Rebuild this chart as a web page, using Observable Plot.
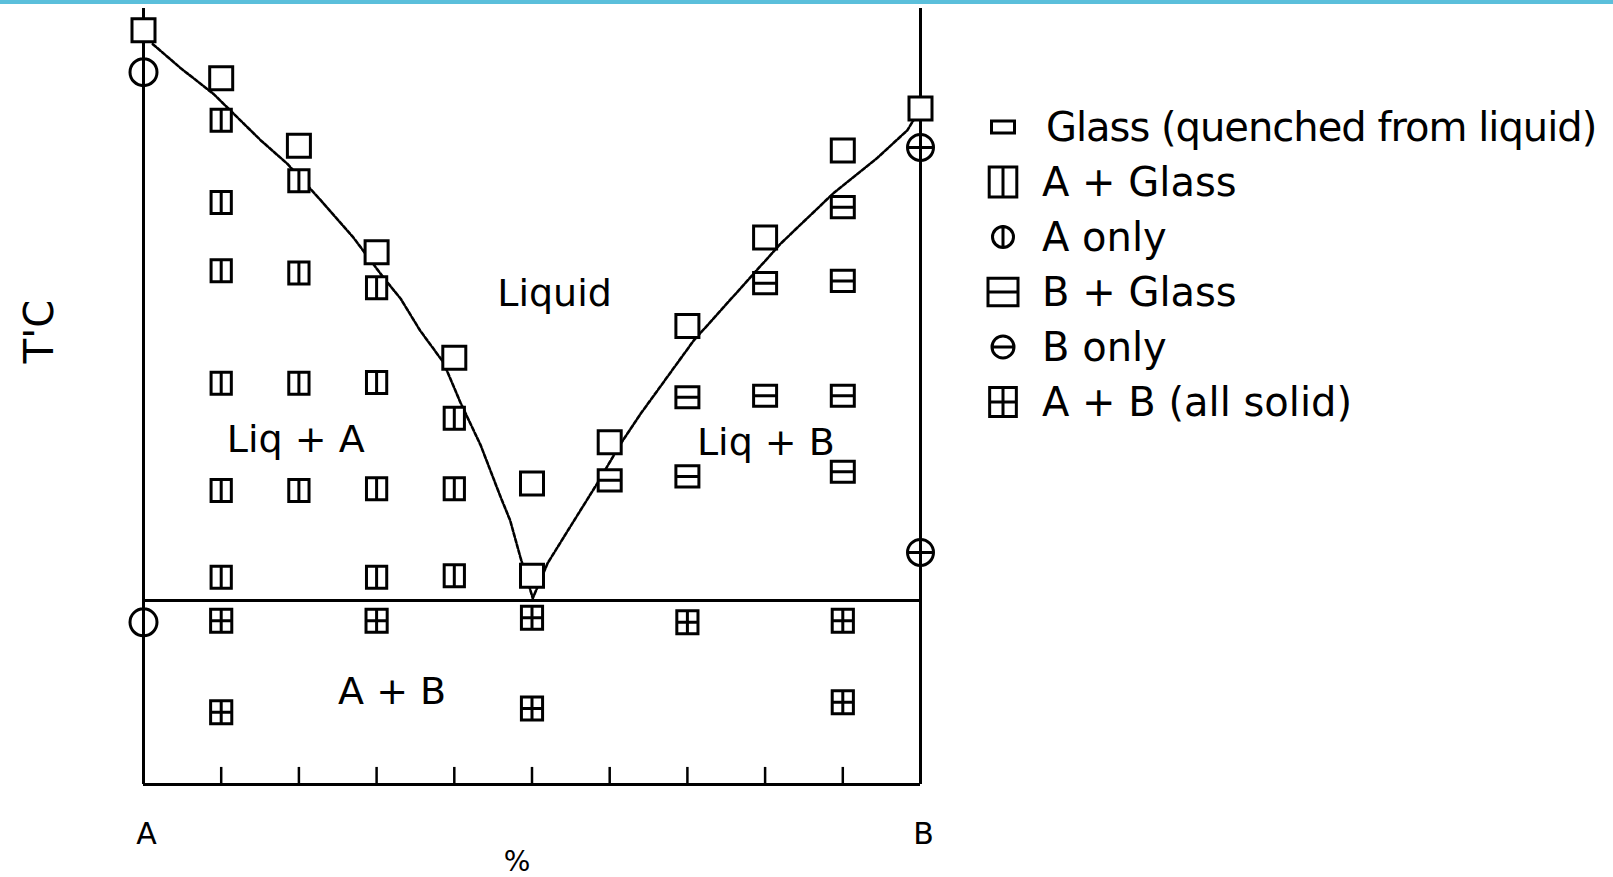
<!DOCTYPE html>
<html>
<head>
<meta charset="utf-8">
<script src="https://cdn.jsdelivr.net/npm/d3@7"></script>
<script src="https://cdn.jsdelivr.net/npm/@observablehq/plot@0.6"></script>
<style>
  html, body { margin: 0; padding: 0; background: #fff; }
  #wrap { position: relative; width: 1613px; height: 877px; overflow: hidden; font-family: "DejaVu Sans", sans-serif; color: #000; }
  #topbar { position: absolute; left: 0; top: 0; width: 100%; height: 4px; background: #5bbfdb; z-index: 2; }
  #chart { position: absolute; left: 0; top: 0; }
  #key { position: absolute; left: 985px; top: 99px; }
  .row { display: flex; align-items: center; height: 55px; }
  .row svg { flex: none; overflow: visible; }
  .row span { margin-left: 21px; font-size: 40px; line-height: 1; white-space: nowrap; }
  .row span.first { margin-left: 25px; letter-spacing: -1px; }
</style>
</head>
<body>
<div id="wrap">
  <div id="chart"></div>
  <div id="key"></div>
  <div id="topbar"></div>
</div>
<script>
// Composition axis: % of B (0 = pure A, 100 = pure B); temperature in relative units.
const compTicks = [10, 20, 30, 40, 50, 60, 70, 80, 90];
const endLabels = ["A", "B"];
const endPct = [0, 100];
const eutecticT = 23.7;

// Liquidus curve (A side down to the eutectic, then up to B)
const liquidusPct = [1.2, 4.8, 9.0, 15.1, 18.5, 22.8, 27.0, 30.9, 33.1, 35.6, 38.6, 40.8, 43.4, 45.9, 47.2, 48.5, 50.1,
                     52.0, 54.6, 58.4, 61.4, 64.0, 70.8, 77.7, 82.0, 88.8, 94.5, 98.3, 100];
const liquidusT   = [95.4, 92.3, 89.0, 83.0, 80.0, 75.3, 70.5, 65.3, 62.6, 58.5, 54.4, 49.2, 43.7, 37.2, 34.0, 29.3, 24.0,
                     28.5, 32.7, 38.8, 43.9, 47.8, 57.2, 64.9, 69.7, 76.2, 80.8, 84.3, 87.1];

// Quenched runs, one pair of arrays per observed phase assemblage
const glassPct = [0, 10, 20, 30, 40, 50, 50, 60, 70, 80, 90, 100];
const glassT   = [97.2, 91.0, 82.3, 68.6, 55.0, 38.8, 26.9, 44.1, 59.1, 70.5, 81.7, 87.1];

const aGlassPct = [10, 10, 10, 20, 20, 30, 10, 20, 30, 40, 10, 20, 30, 40, 10, 30, 40];
const aGlassT   = [85.6, 75.0, 66.2, 77.8, 65.9, 64.0, 51.7, 51.7, 51.8, 47.2, 37.9, 37.9, 38.1, 38.1, 26.7, 26.7, 26.9];

const aOnlyPct = [0, 0];
const aOnlyT   = [91.8, 20.9];

const bGlassPct = [90, 80, 90, 70, 80, 90, 60, 70, 90];
const bGlassT   = [74.4, 64.6, 64.9, 49.9, 50.1, 50.1, 39.2, 39.7, 40.3];

const bOnlyPct = [100, 100];
const bOnlyT   = [82.1, 29.9];

const abPct = [10, 30, 50, 70, 90, 10, 50, 90];
const abT   = [21.1, 21.1, 21.5, 20.9, 21.1, 9.3, 9.8, 10.6];

// Field labels
const fieldNames = ["Liquid", "Liq + A", "Liq + B", "A + B"];
const fieldPct   = [52.9, 19.6, 80.1, 32.0];
const fieldT     = [61.7, 42.8, 42.4, 10.4];

const yLabel = "T'C";
const xLabel = "%";

// Marker shapes: r is the half-width of the marker
const side = size => Math.sqrt(size / Math.PI);
function box(ctx, w, h) {
  ctx.moveTo(-w, -h); ctx.lineTo(w, -h); ctx.lineTo(w, h); ctx.lineTo(-w, h); ctx.closePath();
}
const symGlass = { draw(ctx, size) { const r = side(size); box(ctx, r, r); } };
const symGlassKey = { draw(ctx, size) { const r = side(size); box(ctx, r, r * 0.52); } };
const symAGlass = { draw(ctx, size) { const r = side(size); box(ctx, r * 0.92, r); ctx.moveTo(0, -r); ctx.lineTo(0, r); } };
const symBGlass = { draw(ctx, size) { const r = side(size); box(ctx, r, r * 0.92); ctx.moveTo(-r, 0); ctx.lineTo(r, 0); } };
const symAB = { draw(ctx, size) { const r = side(size); box(ctx, r * 0.92, r); ctx.moveTo(0, -r); ctx.lineTo(0, r); ctx.moveTo(-r * 0.92, 0); ctx.lineTo(r * 0.92, 0); } };
const symAOnly = { draw(ctx, size) { const r = side(size); ctx.moveTo(r, 0); ctx.arc(0, 0, r, 0, 2 * Math.PI); ctx.moveTo(0, -r * 1.15); ctx.lineTo(0, r * 1.15); } };
const symBOnly = { draw(ctx, size) { const r = side(size); ctx.moveTo(r, 0); ctx.arc(0, 0, r, 0, 2 * Math.PI); ctx.moveTo(-r * 1.1, 0); ctx.lineTo(r * 1.1, 0); } };

const phases = [
  { name: "Glass (quenched from liquid)", pct: glassPct, t: glassT, symbol: symGlass, key: symGlassKey, r: 11.5, keyR: 11.5, fill: "white" },
  { name: "A + Glass", pct: aGlassPct, t: aGlassT, symbol: symAGlass, key: symAGlass, r: 11, keyR: 15, fill: "white" },
  { name: "A only", pct: aOnlyPct, t: aOnlyT, symbol: symAOnly, key: symAOnly, r: 13.5, keyR: 10.5, fill: "none" },
  { name: "B + Glass", pct: bGlassPct, t: bGlassT, symbol: symBGlass, key: symBGlass, r: 11.5, keyR: 15, fill: "white" },
  { name: "B only", pct: bOnlyPct, t: bOnlyT, symbol: symBOnly, key: symBOnly, r: 13, keyR: 11, fill: "none" },
  { name: "A + B (all solid)", pct: abPct, t: abT, symbol: symAB, key: symAB, r: 11.5, keyR: 14.5, fill: "white" }
];

const liquidus = liquidusPct.map((p, i) => ({ pct: p, t: liquidusT[i] }));
const fields = fieldNames.map((name, i) => ({ name, pct: fieldPct[i], t: fieldT[i] }));
const ends = endLabels.map((name, i) => ({ name, pct: endPct[i] }));

const dotMarks = phases.map(ph =>
  Plot.dot(ph.pct.map((p, i) => ({ pct: p, t: ph.t[i] })), {
    x: "pct", y: "t", symbol: ph.symbol, r: ph.r,
    fill: ph.fill, stroke: "black", strokeWidth: 3
  })
);

const chart = Plot.plot({
  width: 960,
  height: 877,
  marginLeft: 143,
  marginRight: 40,
  marginTop: 8,
  marginBottom: 93,
  x: { domain: [0, 100], axis: null },
  y: { domain: [0, 100], axis: null },
  style: { fontFamily: "DejaVu Sans, sans-serif", fontSize: "38px", background: "white", color: "black" },
  marks: [
    Plot.line(liquidus, { x: "pct", y: "t", stroke: "black", strokeWidth: 2.6, strokeDasharray: "4 2" }),
    Plot.ruleY([0, eutecticT], { x1: 0, x2: 100, stroke: "black", strokeWidth: 3 }),
    Plot.ruleX(endPct, { y1: 0, y2: 100, stroke: "black", strokeWidth: 3 }),
    Plot.ruleX(compTicks, { y1: 0, y2: 2.2, stroke: "black", strokeWidth: 2.5 }),
    ...dotMarks,
    Plot.text(fields, { x: "pct", y: "t", text: "name", fontSize: 38, lineAnchor: "bottom", fill: "black" }),
    Plot.text(ends, { x: "pct", y: () => 0, text: "name", fontSize: 30, lineAnchor: "bottom", dy: 59, dx: 3, fill: "black" }),
    Plot.text([xLabel], { frameAnchor: "bottom", text: d => d, fontSize: 28, lineAnchor: "bottom", dy: 86, dx: -15, fill: "black" }),
    Plot.text([yLabel], { frameAnchor: "top-left", text: d => d, fontSize: 40, rotate: -90, textAnchor: "middle", lineAnchor: "bottom", dx: -91, dy: 323, fill: "black" })
  ]
});
document.getElementById("chart").appendChild(chart);

// Symbol key to the right of the diagram
const key = d3.select("#key");
phases.forEach((ph, i) => {
  const row = key.append("div").attr("class", "row");
  const svg = row.append("svg").attr("width", 36).attr("height", 36);
  svg.append("path")
    .attr("transform", "translate(18,18)")
    .attr("d", d3.symbol(ph.key, Math.PI * ph.keyR * ph.keyR)())
    .attr("fill", ph.fill)
    .attr("stroke", "black")
    .attr("stroke-width", 3);
  row.append("span").attr("class", i === 0 ? "first" : null).text(ph.name);
});
</script>
</body>
</html>
